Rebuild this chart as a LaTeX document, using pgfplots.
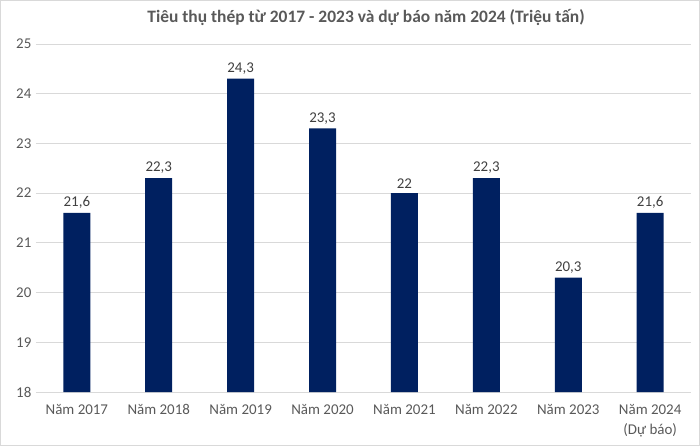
\documentclass[border=0pt]{standalone}
\usepackage{pgfplots}
\pgfplotsset{compat=1.18}
\usepackage{fontspec}
\setmainfont{Carlito}
\definecolor{barblue}{HTML}{002060}
\definecolor{ticktxt}{HTML}{595959}
\definecolor{labtxt}{HTML}{404040}
\definecolor{gridc}{HTML}{D9D9D9}
\begin{document}
\begin{tikzpicture}
% chart area border
\draw[gridc, line width=0.75bp] (0.5bp,0.5bp) rectangle (699.5bp,445.5bp);
\node[font=\bfseries\fontsize{17.5}{20}\selectfont, text=ticktxt] at (366bp,428bp)
  {Tiêu thụ thép từ 2017 - 2023 và dự báo năm 2024 (Triệu tấn)};
\begin{axis}[
  at={(36bp,54bp)}, anchor=south west,
  scale only axis, width=655bp, height=348bp,
  ymin=18, ymax=25, ytick={18,...,25},
  xmin=-0.5, xmax=7.5,
  xtick={0,...,7},
  xticklabels={Năm 2017,Năm 2018,Năm 2019,Năm 2020,Năm 2021,Năm 2022,Năm 2023,{Năm 2024\\(Dự báo)}},
  xticklabel style={align=center, font=\fontsize{15}{20}\selectfont, text=ticktxt, yshift=-9bp},
  yticklabel style={font=\fontsize{15}{18}\selectfont, text=ticktxt, xshift=-1bp},
  axis line style={draw=none},
  major tick length=0pt,
  ymajorgrids, grid style={gridc, line width=0.75bp},
  /pgf/number format/assume math mode=true,
  /pgf/number format/use comma,
  ybar, bar width=27bp,
  nodes near coords,
  nodes near coords style={font=\fontsize{15}{18}\selectfont, text=labtxt, yshift=1bp},
]
\addplot[fill=barblue, draw=none] coordinates {
  (0,21.6) (1,22.3) (2,24.3) (3,23.3) (4,22) (5,22.3) (6,20.3) (7,21.6)};
\end{axis}
\end{tikzpicture}
\end{document}
